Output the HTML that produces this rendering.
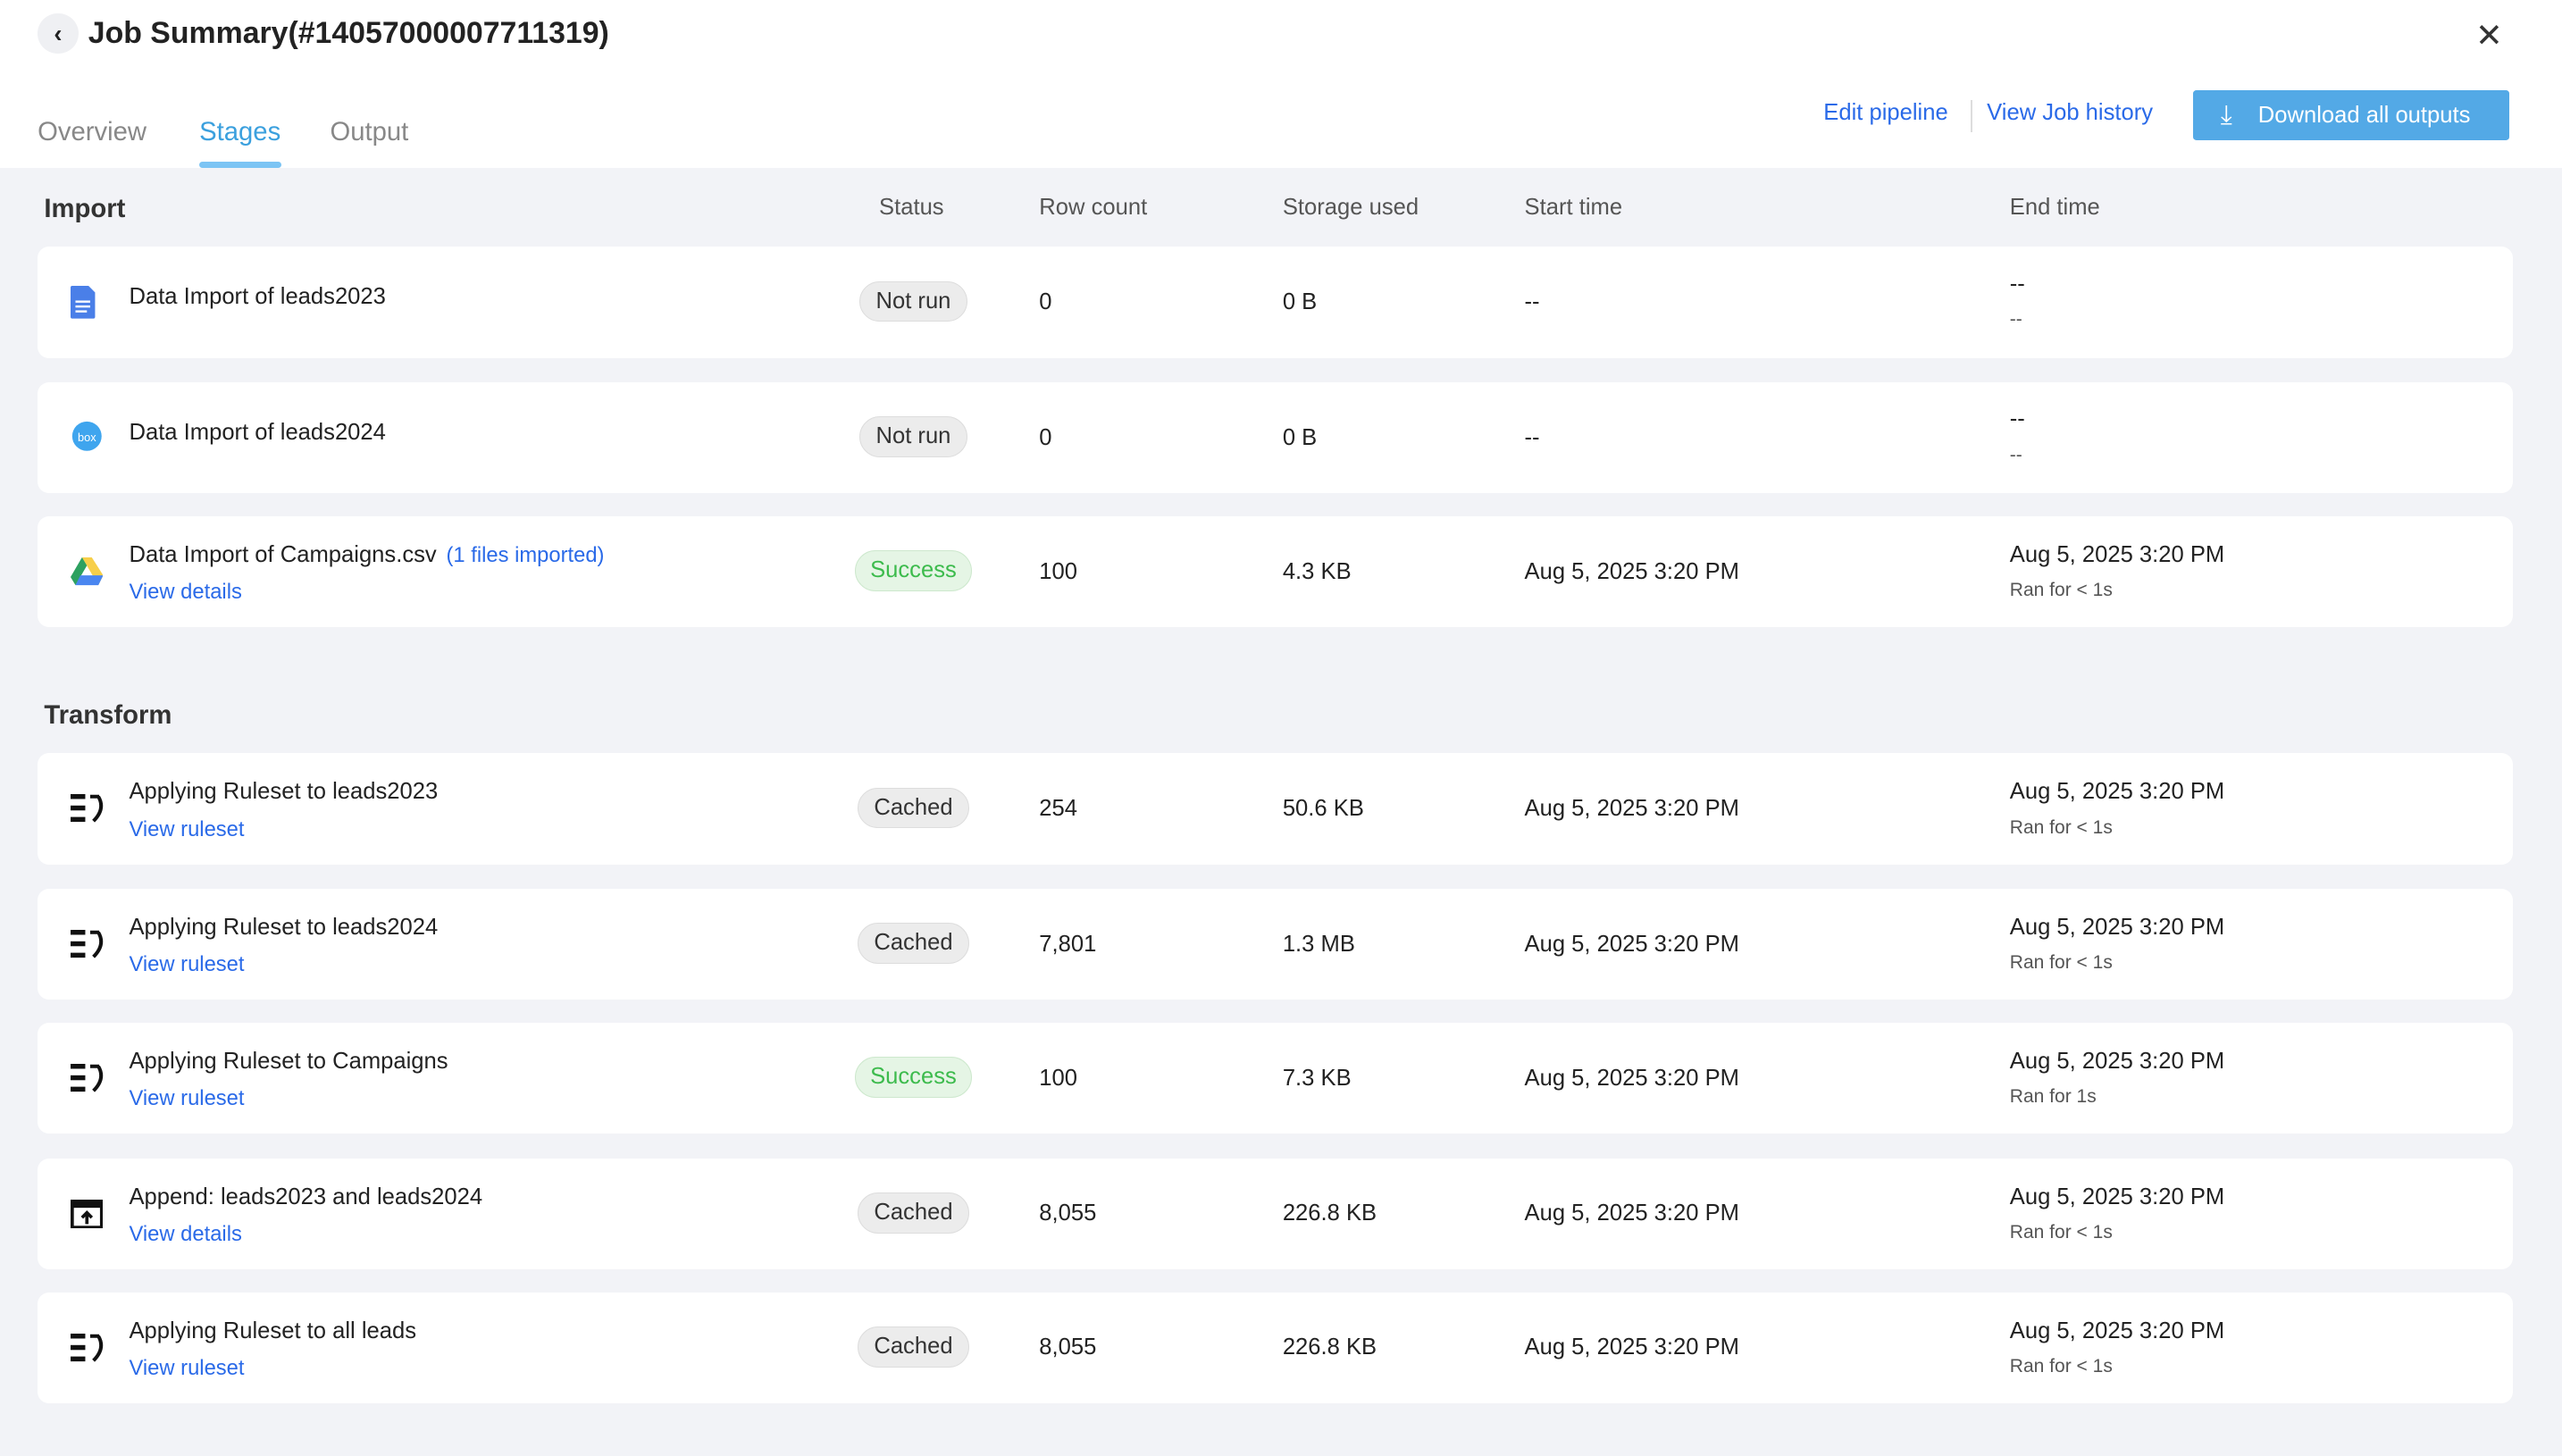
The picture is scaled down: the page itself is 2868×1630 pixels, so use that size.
<!DOCTYPE html>
<html><head><meta charset="utf-8"><style>
*{box-sizing:border-box;margin:0;padding:0}
html,body{width:2868px;height:1630px;overflow:hidden;background:#fff}
#root{zoom:1.8291;width:1568px;height:891px;position:relative;font-family:"Liberation Sans",sans-serif;color:#222}
.abs{position:absolute}
.hdr{position:absolute;left:0;top:0;width:1568px;height:103px;background:#fff}
.gray{position:absolute;left:0;top:103px;width:1568px;height:788px;background:#f2f3f7}
.back{left:23px;top:8px;width:25px;height:25px;border-radius:50%;background:#eff0f3;font-size:15px;font-weight:bold;text-align:center;line-height:25px}
.title{left:54px;top:10px;font-size:18.5px;font-weight:bold;color:#222}
.tab{top:72px;font-size:16px;color:#888}
.link{color:#2a6ae8}
.btn{left:1342px;top:55px;width:194px;height:31px;background:#53a9e6;color:#fff;border-radius:2px;font-size:14px;line-height:31px;padding-left:40px}
.sec{left:27px;font-size:16px;font-weight:bold;color:#333}
.colh{top:119px;font-size:14px;color:#555}
.card{position:absolute;left:23px;width:1515px;height:68px;background:#fff;border-radius:7px}
.name{position:absolute;left:56px;font-size:14px;color:#222}
.sub{position:absolute;left:56px;font-size:13px;color:#2a6ae8}
.pill{position:absolute;top:21px;height:25px;border-radius:13px;font-size:14px;line-height:23px;text-align:center}
.nr{left:503px;width:66px;background:#ececec;border:1px solid #ddd;color:#333}
.ca{left:502px;width:68px;background:#ececec;border:1px solid #ddd;color:#333}
.su{left:500px;width:72px;background:#e5f5e5;border:1px solid #cde8cd;color:#3dbb4d}
.cell{position:absolute;top:26px;font-size:14px;color:#222}
.end1{position:absolute;left:1207px;top:16px;font-size:14px;color:#222}
.end2{position:absolute;left:1207px;top:39px;font-size:11.5px;color:#555}
.ico{position:absolute;left:20px;top:24px}
</style></head><body>
<div id="root">
<div class="hdr">
 <div class="abs back">‹</div>
 <div class="abs title">Job Summary(#14057000007711319)</div>
 <div class="abs" style="left:1515px;top:10px;font-size:20px;color:#333">✕</div>
 <div class="abs tab" style="left:23px">Overview</div>
 <div class="abs tab" style="left:122px;color:#3ba0de">Stages</div>
 <div class="abs" style="left:122px;top:99px;width:50px;height:4px;background:#7cc4f4;border-radius:2px"></div>
 <div class="abs tab" style="left:202px">Output</div>
 <div class="abs link" style="left:1116px;top:61px;font-size:14px">Edit pipeline</div>
 <div class="abs" style="left:1206px;top:61px;width:1px;height:20px;background:#ddd"></div>
 <div class="abs link" style="left:1216px;top:61px;font-size:14px">View Job history</div>
 <div class="abs btn"><span style="position:absolute;left:17px;top:0;font-size:16px">⤓</span>Download all outputs</div>
</div>
<div class="gray"></div>
<div class="abs sec" style="top:119px">Import</div>
<div class="abs colh" style="left:538px">Status</div>
<div class="abs colh" style="left:636px">Row count</div>
<div class="abs colh" style="left:785px">Storage used</div>
<div class="abs colh" style="left:933px">Start time</div>
<div class="abs colh" style="left:1230px">End time</div>

<div class="card" style="top:151px">
 <svg class="ico" width="16" height="20" viewBox="0 0 16 20"><path d="M1 0h10l4 4v15a1 1 0 0 1-1 1H1a1 1 0 0 1-1-1V1a1 1 0 0 1 1-1z" fill="#4a7fe8"/><rect x="3" y="9" width="9" height="1.3" fill="#fff"/><rect x="3" y="12" width="9" height="1.3" fill="#fff"/><rect x="3" y="15" width="7" height="1.3" fill="#fff"/></svg>
 <div class="name" style="top:23px">Data Import of leads2023</div>
 <div class="pill nr">Not run</div>
 <div class="cell" style="left:613px">0</div><div class="cell" style="left:762px">0 B</div><div class="cell" style="left:910px">--</div>
 <div class="end1" style="top:15px">--</div><div class="end2" style="top:38px">--</div>
</div>
<div class="card" style="top:234px">
 <svg class="ico" width="20" height="20" style="top:23px;left:20px"><circle cx="10" cy="10" r="9" fill="#3fa5ee"/><text x="10" y="13" font-size="7" fill="#fff" text-anchor="middle" font-family="Liberation Sans">box</text></svg>
 <div class="name" style="top:23px">Data Import of leads2024</div>
 <div class="pill nr">Not run</div>
 <div class="cell" style="left:613px">0</div><div class="cell" style="left:762px">0 B</div><div class="cell" style="left:910px">--</div>
 <div class="end1" style="top:15px">--</div><div class="end2" style="top:38px">--</div>
</div>
<div class="card" style="top:316px">
 <svg class="ico" width="20" height="18" style="top:25px"><polygon points="7,0 13,0 20,11 17,17" fill="#f7cf4a"/><polygon points="7,0 0,12 3,17 10,5" fill="#2da160"/><polygon points="3,17 17,17 20,11 6,11" fill="#4a86f0"/></svg>
 <div class="name" style="top:16px">Data Import of Campaigns.csv <span class="link" style="font-size:13px;margin-left:2px">(1 files imported)</span></div>
 <div class="sub" style="top:39px">View details</div>
 <div class="pill su">Success</div>
 <div class="cell" style="left:613px">100</div><div class="cell" style="left:762px">4.3 KB</div><div class="cell" style="left:910px">Aug 5, 2025 3:20 PM</div>
 <div class="end1">Aug 5, 2025 3:20 PM</div><div class="end2">Ran for &lt; 1s</div>
</div>

<div class="abs sec" style="top:429px">Transform</div>

<script>
const names=["Applying Ruleset to leads2023","Applying Ruleset to leads2024","Applying Ruleset to Campaigns","Append: leads2023 and leads2024","Applying Ruleset to all leads"];
const links=["View ruleset","View ruleset","View ruleset","View details","View ruleset"];
const statuses=["Cached","Cached","Success","Cached","Cached"];
const rowCounts=["254","7,801","100","8,055","8,055"];
const storage=["50.6 KB","1.3 MB","7.3 KB","226.8 KB","226.8 KB"];
const ran=["Ran for < 1s","Ran for < 1s","Ran for 1s","Ran for < 1s","Ran for < 1s"];
const tops=[461,544,626,709,791];
const root=document.getElementById('root');
const rule='<svg class="ico" width="22" height="18" viewBox="0 0 22 18" style="top:25px"><rect x="0" y="0" width="9" height="3" fill="#111"/><rect x="0" y="7" width="9" height="3" fill="#111"/><rect x="0" y="14" width="9" height="3" fill="#111"/><path d="M12 1.5h5.5M17 1.5c3 5 2 10-3 15" stroke="#111" stroke-width="2.2" fill="none"/></svg>';
const app='<svg class="ico" width="20" height="18" viewBox="0 0 20 18" style="top:25px"><rect x="1" y="1" width="18" height="16" fill="none" stroke="#111" stroke-width="2"/><rect x="1" y="1" width="18" height="4" fill="#111"/><path d="M10 15V8M7 11l3-3 3 3" stroke="#111" stroke-width="2" fill="none"/></svg>';
names.forEach((n,i)=>{
 const c=document.createElement('div');
 c.className='card';c.style.top=tops[i]+'px';
 
 
 const cls=statuses[i]==='Success'?'su':'ca';
 c.innerHTML=(i===3?app:rule)+
 '<div class="name" style="top:16px">'+n+'</div>'+
 '<div class="sub" style="top:39px">'+links[i]+'</div>'+
 '<div class="pill '+cls+'">'+statuses[i]+'</div>'+
 '<div class="cell" style="left:613px">'+rowCounts[i]+'</div>'+
 '<div class="cell" style="left:762px">'+storage[i]+'</div>'+
 '<div class="cell" style="left:910px">Aug 5, 2025 3:20 PM</div>'+
 '<div class="end1">Aug 5, 2025 3:20 PM</div>'+
 '<div class="end2">'+ran[i].replace('<','&lt;')+'</div>';
 root.appendChild(c);
 const l=c.querySelector('.sub');
 
 
 const p=c.querySelector('.pill');
 
 
});
</script>
</div>
</body></html>
